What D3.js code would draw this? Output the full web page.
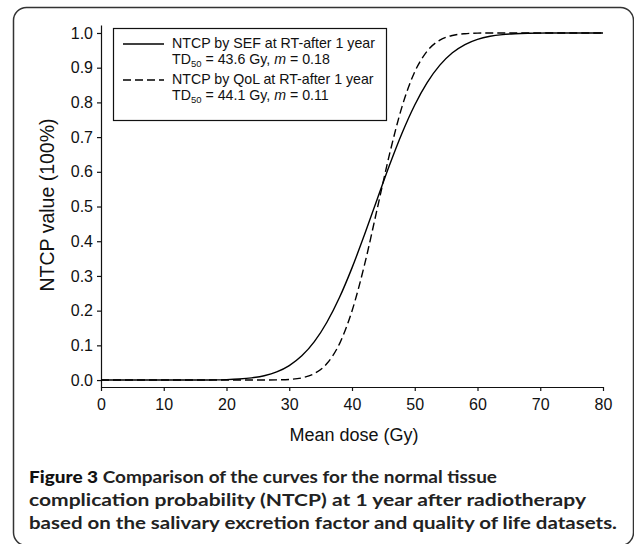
<!DOCTYPE html>
<html>
<head>
  <meta charset="utf-8">
  <title>NTCP curves</title>
  <script src="https://cdn.jsdelivr.net/npm/d3@7"></script>
  <style>
    body { margin: 0; background: #fff; }
    svg { display: block; }
    .axis text { font-family: "Liberation Sans", Arial, sans-serif; font-size: 16px; fill: #111; }
    .axis path, .axis line { stroke: #111; stroke-width: 1.2; }
    .lbl { font-family: "Liberation Sans", Arial, sans-serif; fill: #111; }
    .caption { font-family: Lato, "Open Sans", sans-serif; fill: #222; }
  </style>
</head>
<body>
<svg id="chart" width="634" height="544"></svg>
<script>
  // dose values (Gy), every 2 Gy
  var dose = [0, 2, 4, 6, 8, 10, 12, 14, 16, 18, 20, 22, 24, 26, 28, 30, 32, 34, 36, 38,
              40, 42, 44, 46, 48, 50, 52, 54, 56, 58, 60, 62, 64, 66, 68, 70, 72, 74, 76, 78, 80];

  // NTCP by SEF (solid)
  var sef = [0, 0, 0, 0, 0, 0, 0, 0, 0.0002, 0.0005, 0.0013, 0.003, 0.0063, 0.0125, 0.0234, 0.0416,
             0.0697, 0.1106, 0.1665, 0.2377, 0.3232, 0.4192, 0.5203, 0.6201, 0.7125, 0.7926,
             0.8577, 0.9074, 0.943, 0.9667, 0.9817, 0.9905, 0.9953, 0.9978, 0.9991, 0.9997,
             1, 1, 1, 1, 1];

  // NTCP by QoL (dashed)
  var qol = [0, 0, 0, 0, 0, 0, 0, 0, 0, 0, 0, 0, 0, 0.0001, 0.0005, 0.0018,
             0.0063, 0.0187, 0.0475, 0.1044, 0.199, 0.3325, 0.4918, 0.6523, 0.7893, 0.8881,
             0.9483, 0.9794, 0.9929, 0.9979, 0.9995, 1, 1, 1, 1, 1,
             1, 1, 1, 1, 1];

  var xTicks = [0, 10, 20, 30, 40, 50, 60, 70, 80];
  var yTicks = [0, 0.1, 0.2, 0.3, 0.4, 0.5, 0.6, 0.7, 0.8, 0.9, 1.0];

  var captionLines = [
    ["Figure 3", " Comparison of the curves for the normal tissue"],
    ["", "complication probability (NTCP) at 1 year after radiotherapy"],
    ["", "based on the salivary excretion factor and quality of life datasets."]
  ];

  var svg = d3.select('#chart');

  // rounded frame round the whole figure
  svg.append('rect')
    .attr('x', 13.5).attr('y', 7.5)
    .attr('width', 620).attr('height', 538)
    .attr('rx', 13)
    .attr('fill', 'none')
    .attr('stroke', '#333')
    .attr('stroke-width', 1.5);

  var x = d3.scaleLinear().domain([0, 80]).range([101, 603]);
  var y = d3.scaleLinear().domain([-0.02, 1.023]).range([387, 25]);

  svg.append('g')
    .attr('class', 'axis')
    .attr('transform', 'translate(0,387)')
    .call(d3.axisBottom(x).tickValues(xTicks).tickSize(4).tickSizeOuter(0).tickPadding(5))
    .selectAll('text').attr('dy', '0.9em');

  svg.append('g')
    .attr('class', 'axis')
    .attr('transform', 'translate(101,0)')
    .call(d3.axisLeft(y).tickValues(yTicks).tickSize(4).tickSizeOuter(0).tickPadding(4)
      .tickFormat(d3.format('.1f')));

  var line = d3.line()
    .x(function(d) { return x(d[0]); })
    .y(function(d) { return y(d[1]); })
    .curve(d3.curveMonotoneX);

  svg.append('path')
    .datum(d3.zip(dose, sef))
    .attr('d', line)
    .attr('fill', 'none')
    .attr('stroke', '#000')
    .attr('stroke-width', 1.4);

  svg.append('path')
    .datum(d3.zip(dose, qol))
    .attr('d', line)
    .attr('fill', 'none')
    .attr('stroke', '#000')
    .attr('stroke-width', 1.4)
    .attr('stroke-dasharray', '8,4');

  // axis titles
  svg.append('text')
    .attr('class', 'lbl')
    .attr('x', 354).attr('y', 441)
    .attr('text-anchor', 'middle')
    .style('font-size', '18px')
    .text('Mean dose (Gy)');

  svg.append('text')
    .attr('class', 'lbl')
    .attr('transform', 'translate(54,205) rotate(-90)')
    .attr('text-anchor', 'middle')
    .style('font-size', '19.5px')
    .text('NTCP value (100%)');

  // legend
  var legend = svg.append('g');
  legend.append('rect')
    .attr('x', 113.5).attr('y', 28.5)
    .attr('width', 273).attr('height', 92)
    .attr('fill', '#fff')
    .attr('stroke', '#111')
    .attr('stroke-width', 1.2);

  var entries = [
    {name: 'NTCP by SEF at RT-after 1 year', td: '43.6', m: '0.18', dash: null, y: 44},
    {name: 'NTCP by QoL at RT-after 1 year', td: '44.1', m: '0.11', dash: '8,4', y: 80}
  ];

  entries.forEach(function(e) {
    legend.append('line')
      .attr('x1', 123).attr('x2', 164)
      .attr('y1', e.y).attr('y2', e.y)
      .attr('stroke', '#000')
      .attr('stroke-width', 1.4)
      .attr('stroke-dasharray', e.dash);

    legend.append('text')
      .attr('class', 'lbl')
      .attr('x', 172).attr('y', e.y + 4)
      .style('font-size', '14.2px')
      .text(e.name);

    var t = legend.append('text')
      .attr('class', 'lbl')
      .attr('x', 172).attr('y', e.y + 20)
      .style('font-size', '14.2px');
    t.append('tspan').text('TD');
    t.append('tspan').attr('dy', 3).style('font-size', '9.5px').text('50');
    t.append('tspan').attr('dy', -3).text(' = ' + e.td + ' Gy, ');
    t.append('tspan').style('font-style', 'italic').text('m');
    t.append('tspan').text(' = ' + e.m);
  });

  // caption, each line stretched to the width it has in the figure
  var capY = [483, 506, 529];
  var capW = [468, 557, 588];
  captionLines.forEach(function(l, i) {
    var t = svg.append('text')
      .attr('class', 'caption')
      .attr('x', 29).attr('y', capY[i])
      .attr('textLength', capW[i])
      .attr('lengthAdjust', 'spacingAndGlyphs')
      .style('font-size', '17.5px')
      .style('font-weight', 700);
    if (l[0]) t.append('tspan').style('font-weight', 900).style('fill', '#111').text(l[0]);
    t.append('tspan').text(l[1]);
  });
</script>
</body>
</html>
